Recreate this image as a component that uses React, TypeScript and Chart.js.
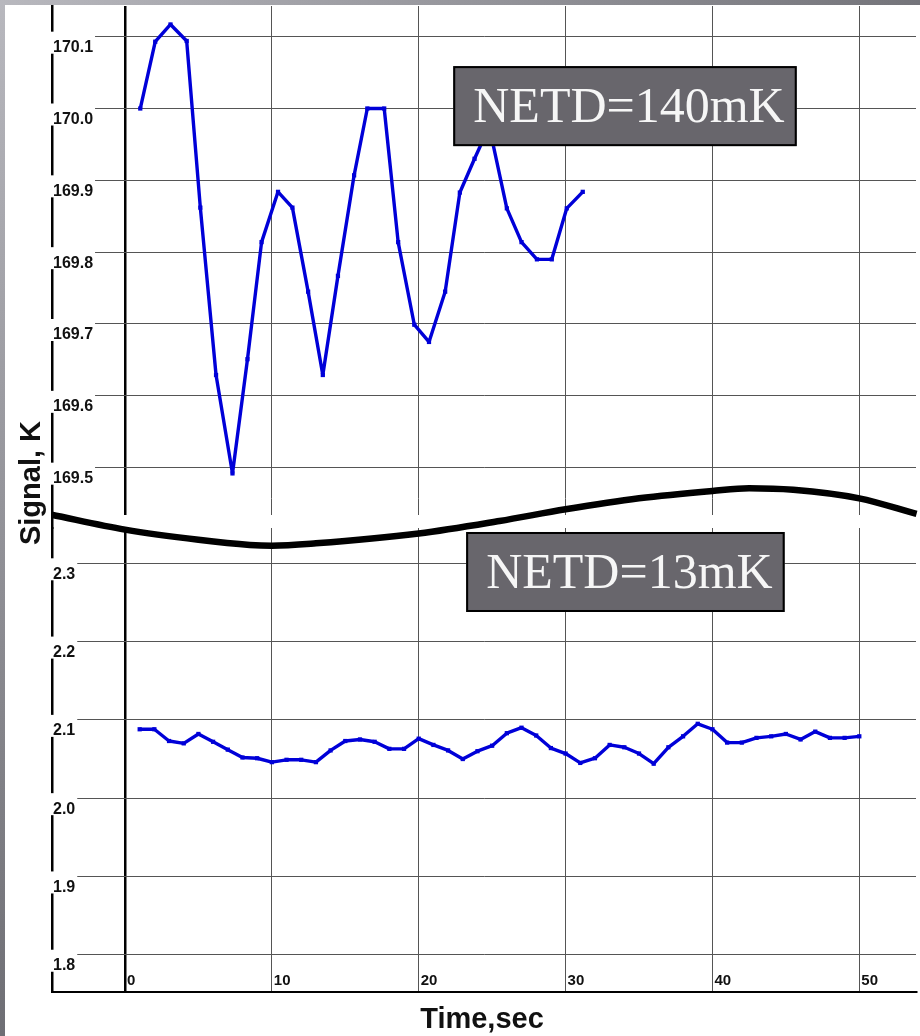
import { useEffect, useRef } from 'react';
import { Chart, registerables } from 'chart.js';

Chart.register(...registerables);

// Upper record (NETD = 140 mK), time in seconds
const upperTimes = [1.04, 2.06, 3.1, 4.2, 5.13, 6.2, 7.32, 8.34, 9.3, 10.42, 11.4, 12.47, 13.47, 14.5, 15.6, 16.5, 17.65, 18.6, 19.7, 20.7, 21.8, 22.8, 23.8, 24.8, 26.0, 27.0, 28.05, 29.06, 30.08, 31.17];
const upperSignal = [170.0, 170.093, 170.117, 170.094, 169.862, 169.629, 169.492, 169.651, 169.814, 169.884, 169.862, 169.745, 169.629, 169.767, 169.907, 170.0, 170.0, 169.814, 169.699, 169.675, 169.745, 169.883, 169.93, 169.975, 169.861, 169.814, 169.79, 169.79, 169.861, 169.884];

// Lower record (NETD = 13 mK)
const lowerTimes = [1, 2, 3, 4, 5, 6, 7, 8, 9, 10, 11, 12, 13, 14, 15, 16, 17, 18, 19, 20, 21, 22, 23, 24, 25, 26, 27, 28, 29, 30, 31, 32, 33, 34, 35, 36, 37, 38, 39, 40, 41, 42, 43, 44, 45, 46, 47, 48, 49, 50];
const lowerSignal = [2.088, 2.088, 2.073, 2.07, 2.082, 2.072, 2.062, 2.052, 2.051, 2.046, 2.049, 2.049, 2.046, 2.061, 2.073, 2.075, 2.072, 2.063, 2.063, 2.076, 2.068, 2.061, 2.05, 2.06, 2.067, 2.083, 2.09, 2.08, 2.064, 2.057, 2.045, 2.051, 2.068, 2.065, 2.057, 2.044, 2.065, 2.079, 2.095, 2.088, 2.071, 2.071, 2.077, 2.079, 2.082, 2.075, 2.085, 2.077, 2.077, 2.079];

// Axis-break curve (expressed in lower-axis units)
const breakTimes = [-5, 0, 5, 8.5, 10, 13, 20, 25.5, 30, 35, 40, 42.5, 45.5, 50, 53.9];
const breakLevel = [2.362, 2.343, 2.33, 2.3235, 2.3225, 2.3255, 2.338, 2.354, 2.369, 2.383, 2.3925, 2.396, 2.394, 2.383, 2.363];

const xTitle = 'Time,sec';
const yTitle = 'Signal, K';

const notes = [
  { text: 'NETD=140mK', x: 22.35, y: 170.059, axis: 'y' },
  { text: 'NETD=13mK', x: 23.23, y: 2.34, axis: 'y2' },
];

const decor = {
  id: 'decor',
  beforeDraw(chart: any) {
    const { ctx, width, height } = chart;
    ctx.save();
    ctx.fillStyle = '#ffffff';
    ctx.fillRect(0, 0, width, height);
    const gl = ctx.createLinearGradient(0, 0, 0, height);
    gl.addColorStop(0, '#b8b8be');
    gl.addColorStop(1, '#6e6e74');
    ctx.fillStyle = gl;
    ctx.fillRect(0, 0, 5, height);
    const gt = ctx.createLinearGradient(0, 0, width, 0);
    gt.addColorStop(0, '#b8b8be');
    gt.addColorStop(1, '#74747a');
    ctx.fillStyle = gt;
    ctx.fillRect(0, 0, width, 5);
    ctx.restore();
  },
  beforeDatasetsDraw(chart: any) {
    const { ctx, chartArea, scales } = chart;
    const g = scales.yGap;
    ctx.save();
    ctx.fillStyle = '#ffffff';
    ctx.fillRect(chartArea.left + 2, g.top, chartArea.right - chartArea.left, g.bottom - g.top);
    ctx.restore();
  },
  afterDraw(chart: any) {
    const { ctx, chartArea, scales } = chart;
    ctx.save();
    // y tick labels
    ctx.font = 'bold 16px "Liberation Sans", Arial, sans-serif';
    ctx.textAlign = 'left';
    ctx.textBaseline = 'alphabetic';
    ['y', 'y2'].forEach((id) => {
      const s = scales[id];
      s.ticks.forEach((t: any) => {
        const py = s.getPixelForValue(t.value);
        const txt = Number(t.value).toFixed(1);
        const w = ctx.measureText(txt).width;
        ctx.fillStyle = '#ffffff';
        ctx.fillRect(chartArea.left - 3, py - 5, w + 6, 22);
        ctx.fillStyle = '#111111';
        ctx.fillText(txt, chartArea.left + 1, py + 15.5);
      });
    });
    // x tick labels
    ctx.font = 'bold 15px "Liberation Sans", Arial, sans-serif';
    const sx = scales.x;
    sx.ticks.forEach((t: any) => {
      const px = sx.getPixelForValue(t.value);
      ctx.fillStyle = '#111111';
      ctx.fillText(String(t.value), px + 2, chartArea.bottom - 7);
    });
    // axis titles
    ctx.font = 'bold 29px "Liberation Sans", Arial, sans-serif';
    ctx.textAlign = 'center';
    ctx.fillStyle = '#111111';
    ctx.fillText(xTitle, 482, 1028);
    ctx.save();
    ctx.translate(40, 483);
    ctx.rotate(-Math.PI / 2);
    ctx.fillText(yTitle, 0, 0);
    ctx.restore();
    // NETD boxes
    ctx.font = '50px "Liberation Serif", "Times New Roman", serif';
    ctx.textAlign = 'left';
    notes.forEach((n) => {
      const left = sx.getPixelForValue(n.x);
      const top = scales[n.axis].getPixelForValue(n.y);
      const w = ctx.measureText(n.text).width + 32;
      const h = 80;
      ctx.fillStyle = '#68666c';
      ctx.fillRect(left, top, w, h);
      ctx.lineWidth = 2;
      ctx.strokeStyle = '#000000';
      ctx.strokeRect(left + 1, top + 1, w - 2, h - 2);
      ctx.fillStyle = '#f6f6f6';
      ctx.fillText(n.text, left + 20, top + 56);
    });
    ctx.restore();
  },
};

export default function App() {
  const ref = useRef<HTMLCanvasElement | null>(null);

  useEffect(() => {
    if (!ref.current) return;
    const blue = '#0000d8';
    const chart = new Chart(ref.current, {
      type: 'line',
      data: {
        datasets: [
          {
            label: 'NETD=140mK',
            data: upperTimes.map((t, i) => ({ x: t, y: upperSignal[i] })),
            xAxisID: 'x',
            yAxisID: 'y',
            borderColor: blue,
            backgroundColor: blue,
            borderWidth: 3.4,
            borderJoinStyle: 'round',
            pointStyle: 'rect',
            pointRadius: 3,
            pointBorderWidth: 0,
            pointBackgroundColor: blue,
            tension: 0,
          },
          {
            label: 'NETD=13mK',
            data: lowerTimes.map((t, i) => ({ x: t, y: lowerSignal[i] })),
            xAxisID: 'x',
            yAxisID: 'y2',
            borderColor: blue,
            backgroundColor: blue,
            borderWidth: 3.4,
            borderJoinStyle: 'round',
            pointStyle: 'rect',
            pointRadius: 3,
            pointBorderWidth: 0,
            pointBackgroundColor: blue,
            tension: 0,
          },
          {
            label: 'break',
            data: breakTimes.map((t, i) => ({ x: t, y: breakLevel[i] })),
            xAxisID: 'x',
            yAxisID: 'y2',
            borderColor: '#000000',
            borderWidth: 6.5,
            pointRadius: 0,
            cubicInterpolationMode: 'monotone',
            clip: false,
          } as any,
        ],
      },
      options: {
        responsive: false,
        maintainAspectRatio: false,
        animation: false,
        events: [],
        layout: { padding: { left: 52, top: 6, right: 0, bottom: 44 } },
        plugins: { legend: { display: false }, tooltip: { enabled: false }, title: { display: false } },
        scales: {
          x: {
            type: 'linear',
            position: 'bottom',
            min: -4.97,
            max: 53.86,
            ticks: { display: false, stepSize: 10, includeBounds: false },
            grid: {
              drawTicks: false,
              color: (c: any) => (c.tick && c.tick.value === 0 ? '#000000' : '#555555'),
              lineWidth: (c: any) => (c.tick && c.tick.value === 0 ? 2.5 : 1),
            },
            border: { display: true, color: '#000000', width: 2 },
          },
          y: {
            type: 'linear',
            position: 'left',
            stack: 'signal',
            stackWeight: 509,
            weight: 3,
            min: 169.4341,
            max: 170.1427,
            ticks: { display: false, stepSize: 0.1, includeBounds: false },
            grid: { drawTicks: false, color: '#555555', lineWidth: 1 },
            border: { display: true, color: '#000000', width: 2.5 },
          },
          yGap: {
            type: 'linear',
            position: 'left',
            stack: 'signal',
            stackWeight: 13,
            weight: 2,
            min: 0,
            max: 1,
            ticks: { display: false },
            grid: { display: false, drawTicks: false },
            border: { display: true, color: '#000000', width: 2.5 },
          },
          y2: {
            type: 'linear',
            position: 'left',
            stack: 'signal',
            stackWeight: 464,
            weight: 1,
            min: 1.7524,
            max: 2.3451,
            ticks: { display: false, stepSize: 0.1, includeBounds: false },
            grid: { drawTicks: false, color: '#555555', lineWidth: 1 },
            border: { display: true, color: '#000000', width: 2.5 },
          },
        } as any,
      },
      plugins: [decor],
    });
    return () => chart.destroy();
  }, []);

  return (
    <div style={{ position: 'fixed', left: 0, top: 0, width: 920, height: 1036, background: '#ffffff' }}>
      <canvas ref={ref} width={920} height={1036} style={{ display: 'block', width: 920, height: 1036 }} />
    </div>
  );
}
